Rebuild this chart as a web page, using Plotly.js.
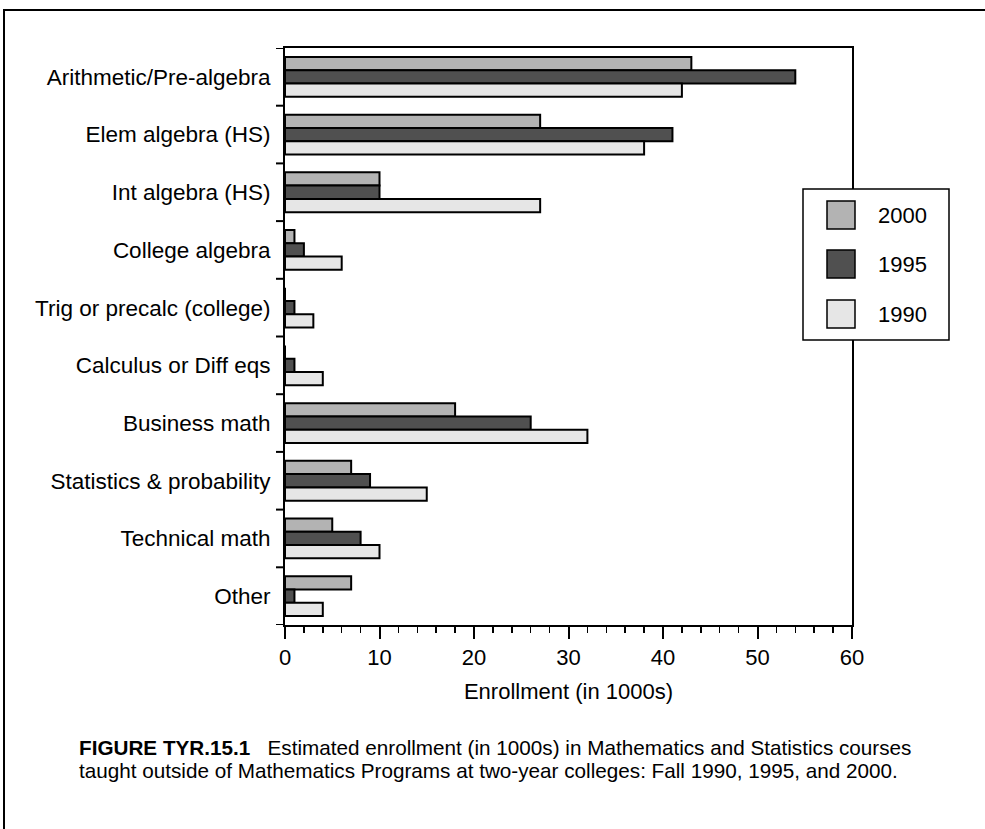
<!DOCTYPE html>
<html>
<head>
<meta charset="utf-8">
<script src="https://cdn.plot.ly/plotly-3.0.1.min.js"></script>
<style>
  html, body { margin: 0; padding: 0; background: #ffffff; }
  #chart { width: 985px; height: 829px; }
</style>
</head>
<body>
<div id="chart"></div>
<script>
// ---- Data ----
var categories = [
  "Arithmetic/Pre-algebra",
  "Elem algebra (HS)",
  "Int algebra (HS)",
  "College algebra",
  "Trig or precalc (college)",
  "Calculus or Diff eqs",
  "Business math",
  "Statistics & probability",
  "Technical math",
  "Other"
];
var seriesNames = ["2000", "1995", "1990"];
var values2000 = [43, 27, 10, 1, 0, 0, 18, 7, 5, 7];
var values1995 = [54, 41, 10, 2, 1, 1, 26, 9, 8, 1];
var values1990 = [42, 38, 27, 6, 3, 4, 32, 15, 10, 4];
var xTickValues = [0, 10, 20, 30, 40, 50, 60];
var xAxisTitle = "Enrollment (in 1000s)";
var captionBold = "FIGURE TYR.15.1";
var captionLine1 = "Estimated enrollment (in 1000s) in Mathematics and Statistics courses";
var captionLine2 = "taught outside of Mathematics Programs at two-year colleges: Fall 1990, 1995, and 2000.";

// ---- Styles ----
var colors = ["#b3b3b3", "#505050", "#e6e6e6"];
var FONT = "Liberation Sans, Arial, Helvetica, sans-serif";

var allValues = [values2000, values1995, values1990];
var traces = allValues.map(function (vals, i) {
  return {
    type: "bar",
    orientation: "h",
    name: seriesNames[i],
    y: categories,
    x: vals,
    marker: { color: colors[i], line: { color: "#000000", width: 2 } },
    showlegend: false,
    hoverinfo: "x+y+name"
  };
});

// pixel -> paper helpers (plot area: x 285..852, y 48..625)
var L = 285, R = 852, T = 48, B = 625;
function px(x) { return (x - L) / (R - L); }
function py(y) { return (B - y) / (B - T); }

var shapes = [];
var annotations = [];

// Tick marks at the category boundaries (y in category-index units)
for (var b = 0; b <= categories.length; b++) {
  shapes.push({
    type: "line", xref: "paper", yref: "y",
    x0: px(L - 9), x1: px(L), y0: b - 0.5, y1: b - 0.5,
    line: { color: "#000000", width: 2 }, layer: "above"
  });
}

// Outer frame
shapes.push({
  type: "rect", xref: "paper", yref: "paper",
  x0: px(4), x1: px(1000), y0: py(850), y1: py(10),
  line: { color: "#000000", width: 2 }, fillcolor: "rgba(0,0,0,0)", layer: "below"
});

// Custom legend box
shapes.push({
  type: "rect", xref: "paper", yref: "paper",
  x0: px(803), x1: px(949), y0: py(340), y1: py(189),
  line: { color: "#000000", width: 1.5 }, fillcolor: "#ffffff", layer: "above"
});
var swatchTops = [201, 250, 300];
seriesNames.forEach(function (nm, i) {
  shapes.push({
    type: "rect", xref: "paper", yref: "paper",
    x0: px(827), x1: px(855), y0: py(swatchTops[i] + 28), y1: py(swatchTops[i]),
    line: { color: "#000000", width: 1.5 }, fillcolor: colors[i], layer: "above"
  });
  annotations.push({
    xref: "paper", yref: "paper",
    x: px(876), y: py(swatchTops[i] + 14),
    xanchor: "left", yanchor: "middle",
    text: nm, showarrow: false,
    font: { family: FONT, size: 22, color: "#000000" }
  });
});

// Caption (two lines, placed separately for tight line spacing)
var capFont = { family: FONT, size: 20.7, color: "#000000" };
annotations.push({
  xref: "paper", yref: "paper",
  x: px(77), y: py(747),
  xanchor: "left", yanchor: "middle", align: "left",
  text: "<b>" + captionBold + "</b>\u00a0\u00a0\u00a0" + captionLine1,
  showarrow: false, font: capFont
});
annotations.push({
  xref: "paper", yref: "paper",
  x: px(77), y: py(770),
  xanchor: "left", yanchor: "middle", align: "left",
  text: captionLine2,
  showarrow: false, font: capFont
});

var layout = {
  width: 985,
  height: 829,
  margin: { l: L, r: 985 - R, t: T, b: 829 - B, pad: 0 },
  paper_bgcolor: "#ffffff",
  plot_bgcolor: "#ffffff",
  barmode: "group",
  bargap: 0.31,
  bargroupgap: 0,
  font: { family: FONT, size: 22, color: "#000000" },
  showlegend: false,
  xaxis: {
    range: [0, 60],
    tickvals: xTickValues,
    ticks: "outside",
    ticklen: 12,
    tickwidth: 2,
    tickcolor: "#000000",
    minor: { dtick: 2, ticks: "outside", ticklen: 6, tickwidth: 1.5, tickcolor: "#000000", showgrid: false },
    showline: true,
    linewidth: 2,
    linecolor: "#000000",
    mirror: true,
    showgrid: false,
    zeroline: false,
    tickfont: { family: FONT, size: 22, color: "#000000" },
    title: { text: xAxisTitle, font: { family: FONT, size: 22, color: "#000000" }, standoff: 14 },
    fixedrange: true
  },
  yaxis: {
    type: "category",
    range: [categories.length - 0.5, -0.5],
    ticks: "",
    ticklabelstandoff: 8,
    showline: true,
    linewidth: 2,
    linecolor: "#000000",
    mirror: true,
    showgrid: false,
    zeroline: false,
    tickfont: { family: FONT, size: 22.5, color: "#000000" },
    fixedrange: true
  },
  shapes: shapes,
  annotations: annotations
};

Plotly.newPlot("chart", traces, layout, { displayModeBar: false, staticPlot: true });
</script>
</body>
</html>
